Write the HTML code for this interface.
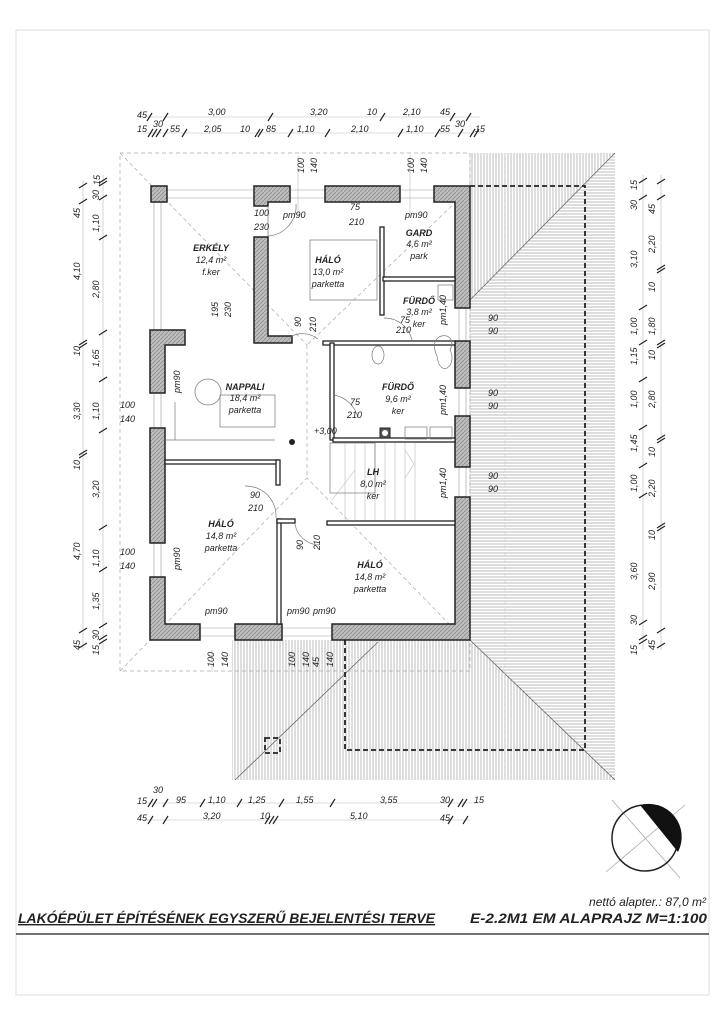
<!DOCTYPE html>
<html><head><meta charset="utf-8"><style>
html,body{margin:0;padding:0;background:#fff;}
svg{display:block;}
text{font-family:"Liberation Sans",sans-serif;font-style:italic;fill:#222;}
.d{font-size:9px;}
.r{font-size:9px;text-anchor:middle;}
.rb{font-size:9px;font-weight:bold;text-anchor:middle;}
</style></head><body>
<svg width="723" height="1024" viewBox="0 0 723 1024" xmlns="http://www.w3.org/2000/svg">
<defs>
<pattern id="hv" width="3" height="3" patternUnits="userSpaceOnUse"><line x1="1" y1="0" x2="1" y2="3" stroke="#aaa" stroke-width="0.8"/></pattern>
<pattern id="hh" width="3" height="3" patternUnits="userSpaceOnUse"><line x1="0" y1="1" x2="3" y2="1" stroke="#aaa" stroke-width="0.8"/></pattern>
<pattern id="wh" width="4" height="4" patternUnits="userSpaceOnUse"><rect width="4" height="4" fill="#bdbdbd"/><line x1="0" y1="4" x2="4" y2="0" stroke="#888" stroke-width="0.7"/></pattern>
</defs>
<rect x="16" y="30" width="693" height="965" fill="none" stroke="#ddd" stroke-width="1"/>

<polygon points="470,153 615,153 470,300" fill="url(#hv)"/>
<polygon points="615,153 615,780 470,640 470,300" fill="url(#hh)"/>
<polygon points="232,640 470,640 615,780 232,780" fill="url(#hv)"/>
<line x1="470" y1="300" x2="615" y2="153" stroke="#666" stroke-width="0.8"/>
<line x1="470" y1="640" x2="615" y2="780" stroke="#666" stroke-width="0.8"/>
<line x1="378" y1="642" x2="235" y2="780" stroke="#666" stroke-width="0.8"/>
<line x1="470" y1="153" x2="470" y2="640" stroke="#ccc" stroke-width="0.6"/>
<line x1="505" y1="153" x2="505" y2="780" stroke="#ccc" stroke-width="0.6" stroke-dasharray="4,3"/>

<g stroke="#aaa" stroke-width="0.7" stroke-dasharray="4,3" fill="none">
<rect x="120" y="153" width="350" height="518"/>
<line x1="120" y1="153" x2="307" y2="345"/>
<line x1="462" y1="196" x2="307" y2="345"/>
<line x1="307" y1="345" x2="307" y2="478"/>
<line x1="120" y1="671" x2="307" y2="478"/>
<line x1="455" y1="630" x2="307" y2="478"/>
</g>

<g stroke="#222" stroke-width="1.8" stroke-dasharray="5,3" fill="none">
<polyline points="470,186 585,186 585,750 345,750 345,640"/>
<rect x="265" y="738" width="15" height="15"/>
</g>

<g stroke="#999" stroke-width="0.6">
<line x1="167" y1="190" x2="254" y2="190"/><line x1="167" y1="198" x2="254" y2="198"/>
<line x1="290" y1="190" x2="325" y2="190"/><line x1="290" y1="198" x2="325" y2="198"/>
<line x1="400" y1="190" x2="434" y2="190"/><line x1="400" y1="198" x2="434" y2="198"/>
<line x1="459" y1="308" x2="459" y2="341"/><line x1="466" y1="308" x2="466" y2="341"/>
<line x1="459" y1="388" x2="459" y2="416"/><line x1="466" y1="388" x2="466" y2="416"/>
<line x1="459" y1="467" x2="459" y2="497"/><line x1="466" y1="467" x2="466" y2="497"/>
<line x1="154" y1="202" x2="154" y2="330"/><line x1="161" y1="202" x2="161" y2="330"/>
<line x1="154" y1="393" x2="154" y2="428"/><line x1="161" y1="393" x2="161" y2="428"/>
<line x1="154" y1="543" x2="154" y2="577"/><line x1="161" y1="543" x2="161" y2="577"/>
<line x1="200" y1="628" x2="235" y2="628"/><line x1="200" y1="636" x2="235" y2="636"/>
<line x1="282" y1="628" x2="332" y2="628"/><line x1="282" y1="636" x2="332" y2="636"/>
</g>

<g fill="url(#wh)" stroke="#222" stroke-width="1.5">
<rect x="151" y="186" width="16" height="16"/>
<polygon points="254,186 290,186 290,202 268,202 268,206 254,206"/>
<rect x="325" y="186" width="75" height="16"/>
<polygon points="434,186 470,186 470,308 455,308 455,202 434,202"/>
<rect x="455" y="341" width="15" height="47"/>
<rect x="455" y="416" width="15" height="51"/>
<polygon points="455,497 470,497 470,640 332,640 332,624 455,624"/>
<polygon points="235,624 282,624 282,640 235,640"/>
<polygon points="150,577 165,577 165,624 200,624 200,640 150,640"/>
<rect x="150" y="428" width="15" height="115"/>
<polygon points="150,330 185,330 185,345 165,345 165,393 150,393"/>
<polygon points="254,237 268,237 268,336 292,336 292,343 254,343"/>
</g>

<g fill="#fff" stroke="#222" stroke-width="1.3">
<rect x="323" y="341" width="132" height="4"/>
<rect x="330" y="343" width="4" height="97"/>
<rect x="333" y="438" width="122" height="4"/>
<rect x="380" y="227" width="4" height="88"/>
<rect x="383" y="277" width="72" height="4"/>
<rect x="165" y="460" width="113" height="4"/>
<rect x="276" y="460" width="4" height="25"/>
<rect x="277" y="519" width="4" height="105"/>
<rect x="277" y="519" width="18" height="4"/>
<rect x="327" y="521" width="128" height="4"/>
</g>

<g stroke="#bbb" stroke-width="0.6">
<line x1="345" y1="443" x2="345" y2="520"/><line x1="355" y1="443" x2="355" y2="520"/>
<line x1="365" y1="443" x2="365" y2="520"/><line x1="375" y1="443" x2="375" y2="520"/>
<line x1="385" y1="443" x2="385" y2="520"/><line x1="395" y1="443" x2="395" y2="520"/>
<line x1="405" y1="443" x2="405" y2="520"/><line x1="415" y1="443" x2="415" y2="520"/>
<polyline points="405,450 414,464 405,478" fill="none"/>
<line x1="332" y1="500" x2="355" y2="470"/>
</g>

<g stroke="#777" stroke-width="0.7" fill="none">
<path d="M268,206 L268,236 A30,30 0 0 0 296,204"/>
<path d="M290,337 A25,25 0 0 1 318,339"/>
<path d="M384,318 A28,28 0 0 1 412,340"/>
<path d="M334,395 A30,30 0 0 1 358,418"/>
<path d="M245,486 A30,30 0 0 1 276,518"/>
<path d="M295,524 A25,25 0 0 0 320,545"/>
<rect x="310" y="240" width="67" height="60"/>
<rect x="330" y="443" width="45" height="50"/>
<circle cx="208" cy="392" r="13"/>
<rect x="220" y="395" width="55" height="32"/>
<ellipse cx="378" cy="355" rx="6" ry="9"/>
<path d="M437,356 C425,330 460,330 450,350 C458,365 440,380 437,356Z"/>
<rect x="405" y="427" width="22" height="12"/><rect x="430" y="427" width="22" height="12"/>
<rect x="438" y="285" width="15" height="15"/>
<line x1="175" y1="402" x2="175" y2="440"/>
<line x1="165" y1="440" x2="275" y2="440"/>
</g>
<rect x="380" y="428" width="10" height="10" fill="#555" stroke="#222"/>
<circle cx="385" cy="433" r="3" fill="#fff"/>
<circle cx="292" cy="442" r="3" fill="#222"/>

<g stroke="#bbb" stroke-width="0.6">
<line x1="143" y1="117" x2="480" y2="117"/>
<line x1="143" y1="133" x2="485" y2="133"/>
<line x1="83" y1="180" x2="83" y2="650"/>
<line x1="103" y1="175" x2="103" y2="650"/>
<line x1="643" y1="175" x2="643" y2="650"/>
<line x1="661" y1="175" x2="661" y2="650"/>
<line x1="143" y1="803" x2="480" y2="803"/>
<line x1="143" y1="820" x2="470" y2="820"/>
<line x1="298" y1="155" x2="298" y2="215"/>
<line x1="410" y1="155" x2="410" y2="215"/>
<line x1="212" y1="672" x2="212" y2="650"/>
</g>
<g stroke="#222" stroke-width="1.2">
<path d="M147,121 l5,-8 M163,121 l5,-8 M268,121 l5,-8 M380,121 l5,-8 M450,121 l5,-8 M466,121 l5,-8"/>
<path d="M148,137 l5,-8 M152,137 l5,-8 M156,137 l5,-8 M163,137 l5,-8 M182,137 l5,-8 M255,137 l5,-8 M258,137 l5,-8 M288,137 l5,-8 M325,137 l5,-8 M398,137 l5,-8 M435,137 l5,-8 M458,137 l5,-8 M470,137 l5,-8 M474,137 l5,-8"/>
<path d="M148,807 l5,-8 M152,807 l5,-8 M163,807 l5,-8 M200,807 l5,-8 M237,807 l5,-8 M279,807 l5,-8 M330,807 l5,-8 M448,807 l5,-8 M458,807 l5,-8 M462,807 l5,-8"/>
<path d="M148,824 l5,-8 M163,824 l5,-8 M265,824 l5,-8 M269,824 l5,-8 M273,824 l5,-8 M448,824 l5,-8 M463,824 l5,-8"/>
<path d="M79,188 l8,-5 M79,204 l8,-5 M79,345 l8,-5 M79,348 l8,-5 M79,455 l8,-5 M79,458 l8,-5 M79,633 l8,-5 M79,648 l8,-5"/>
<path d="M99,183 l8,-5 M99,186 l8,-5 M99,200 l8,-5 M99,240 l8,-5 M99,335 l8,-5 M99,382 l8,-5 M99,433 l8,-5 M99,530 l8,-5 M99,572 l8,-5 M99,628 l8,-5 M99,640 l8,-5 M99,644 l8,-5"/>
<path d="M639,183 l8,-5 M639,200 l8,-5 M639,310 l8,-5 M639,345 l8,-5 M639,382 l8,-5 M639,430 l8,-5 M639,468 l8,-5 M639,498 l8,-5 M639,625 l8,-5 M639,640 l8,-5 M639,644 l8,-5"/>
<path d="M657,184 l8,-5 M657,200 l8,-5 M657,270 l8,-5 M657,273 l8,-5 M657,345 l8,-5 M657,348 l8,-5 M657,440 l8,-5 M657,443 l8,-5 M657,528 l8,-5 M657,531 l8,-5 M657,633 l8,-5 M657,648 l8,-5"/>
</g>

<g class="d">
<text x="137" y="118">45</text><text x="153" y="127">30</text><text x="208" y="115">3,00</text><text x="310" y="115">3,20</text><text x="367" y="115">10</text><text x="403" y="115">2,10</text><text x="440" y="115">45</text><text x="455" y="127">30</text>
<text x="137" y="132">15</text><text x="170" y="132">55</text><text x="204" y="132">2,05</text><text x="240" y="132">10</text><text x="266" y="132">85</text><text x="297" y="132">1,10</text><text x="351" y="132">2,10</text><text x="406" y="132">1,10</text><text x="440" y="132">55</text><text x="475" y="132">15</text>
<text x="137" y="804">15</text><text x="153" y="793">30</text><text x="176" y="803">95</text><text x="208" y="803">1,10</text><text x="248" y="803">1,25</text><text x="296" y="803">1,55</text><text x="380" y="803">3,55</text><text x="440" y="803">30</text><text x="474" y="803">15</text>
<text x="137" y="821">45</text><text x="203" y="819">3,20</text><text x="260" y="819">10</text><text x="350" y="819">5,10</text><text x="440" y="821">45</text>
<text x="283" y="218">pm90</text><text x="405" y="218">pm90</text>
<text x="254" y="216">100</text><text x="254" y="230">230</text>
<text x="350" y="210">75</text><text x="349" y="225">210</text>
<text x="396" y="333">210</text><text x="400" y="323">75</text>
<text x="350" y="405">75</text><text x="347" y="418">210</text>
<text x="314" y="434">+3,00</text>
<text x="250" y="498">90</text><text x="248" y="511">210</text>
<text x="120" y="408">100</text><text x="120" y="422">140</text>
<text x="120" y="555">100</text><text x="120" y="569">140</text>
<text x="205" y="614">pm90</text><text x="287" y="614">pm90</text><text x="313" y="614">pm90</text>
<text x="488" y="321">90</text><text x="488" y="334">90</text>
<text x="488" y="396">90</text><text x="488" y="409">90</text>
<text x="488" y="479">90</text><text x="488" y="492">90</text>
</g>
<g class="d">
<text transform="translate(304,173) rotate(-90)">100</text><text transform="translate(317,173) rotate(-90)">140</text>
<text transform="translate(414,173) rotate(-90)">100</text><text transform="translate(427,173) rotate(-90)">140</text>
<text transform="translate(218,317) rotate(-90)">195</text><text transform="translate(231,317) rotate(-90)">230</text>
<text transform="translate(301,327) rotate(-90)">90</text><text transform="translate(316,332) rotate(-90)">210</text>
<text transform="translate(180,393) rotate(-90)">pm90</text>
<text transform="translate(180,570) rotate(-90)">pm90</text>
<text transform="translate(303,550) rotate(-90)">90</text><text transform="translate(320,550) rotate(-90)">210</text>
<text transform="translate(446,415) rotate(-90)">pm1,40</text>
<text transform="translate(446,498) rotate(-90)">pm1,40</text>
<text transform="translate(446,325) rotate(-90)">pm1,40</text>
<text transform="translate(214,667) rotate(-90)">100</text><text transform="translate(228,667) rotate(-90)">140</text>
<text transform="translate(295,667) rotate(-90)">100</text><text transform="translate(309,667) rotate(-90)">140</text><text transform="translate(319,667) rotate(-90)">45</text><text transform="translate(333,667) rotate(-90)">140</text>
<text transform="translate(80,218) rotate(-90)">45</text><text transform="translate(80,280) rotate(-90)">4,10</text><text transform="translate(80,356) rotate(-90)">10</text><text transform="translate(80,420) rotate(-90)">3,30</text><text transform="translate(80,470) rotate(-90)">10</text><text transform="translate(80,560) rotate(-90)">4,70</text><text transform="translate(80,650) rotate(-90)">45</text>
<text transform="translate(99,200) rotate(-90)">30</text><text transform="translate(100,185) rotate(-90)">15</text><text transform="translate(99,232) rotate(-90)">1,10</text><text transform="translate(99,298) rotate(-90)">2,80</text><text transform="translate(99,367) rotate(-90)">1,65</text><text transform="translate(99,420) rotate(-90)">1,10</text><text transform="translate(99,498) rotate(-90)">3,20</text><text transform="translate(99,567) rotate(-90)">1,10</text><text transform="translate(99,610) rotate(-90)">1,35</text><text transform="translate(99,640) rotate(-90)">30</text><text transform="translate(99,655) rotate(-90)">15</text>
<text transform="translate(637,190) rotate(-90)">15</text><text transform="translate(637,210) rotate(-90)">30</text><text transform="translate(637,268) rotate(-90)">3,10</text><text transform="translate(637,335) rotate(-90)">1,00</text><text transform="translate(637,365) rotate(-90)">1,15</text><text transform="translate(637,408) rotate(-90)">1,00</text><text transform="translate(637,452) rotate(-90)">1,45</text><text transform="translate(637,492) rotate(-90)">1,00</text><text transform="translate(637,580) rotate(-90)">3,60</text><text transform="translate(637,625) rotate(-90)">30</text><text transform="translate(637,655) rotate(-90)">15</text>
<text transform="translate(655,214) rotate(-90)">45</text><text transform="translate(655,253) rotate(-90)">2,20</text><text transform="translate(655,292) rotate(-90)">10</text><text transform="translate(655,335) rotate(-90)">1,80</text><text transform="translate(655,360) rotate(-90)">10</text><text transform="translate(655,408) rotate(-90)">2,80</text><text transform="translate(655,457) rotate(-90)">10</text><text transform="translate(655,497) rotate(-90)">2,20</text><text transform="translate(655,540) rotate(-90)">10</text><text transform="translate(655,590) rotate(-90)">2,90</text><text transform="translate(655,650) rotate(-90)">45</text>
</g>

<text class="rb" x="211" y="251">ERKÉLY</text><text class="r" x="211" y="263">12,4 m²</text><text class="r" x="211" y="275">f.ker</text>
<text class="rb" x="328" y="263">HÁLÓ</text><text class="r" x="328" y="275">13,0 m²</text><text class="r" x="328" y="287">parketta</text>
<text class="rb" x="419" y="236">GARD</text><text class="r" x="419" y="247">4,6 m²</text><text class="r" x="419" y="259">park</text>
<text class="rb" x="419" y="304">FÜRDŐ</text><text class="r" x="419" y="315">3,8 m²</text><text class="r" x="419" y="327">ker</text>
<text class="rb" x="245" y="390">NAPPALI</text><text class="r" x="245" y="401">18,4 m²</text><text class="r" x="245" y="413">parketta</text>
<text class="rb" x="398" y="390">FÜRDŐ</text><text class="r" x="398" y="402">9,6 m²</text><text class="r" x="398" y="414">ker</text>
<text class="rb" x="373" y="475">LH</text><text class="r" x="373" y="487">8,0 m²</text><text class="r" x="373" y="499">ker</text>
<text class="rb" x="221" y="527">HÁLÓ</text><text class="r" x="221" y="539">14,8 m²</text><text class="r" x="221" y="551">parketta</text>
<text class="rb" x="370" y="568">HÁLÓ</text><text class="r" x="370" y="580">14,8 m²</text><text class="r" x="370" y="592">parketta</text>

<g>
<line x1="612" y1="800" x2="680" y2="878" stroke="#aaa" stroke-width="0.8"/>
<line x1="606" y1="872" x2="685" y2="805" stroke="#aaa" stroke-width="0.8"/>
<circle cx="645" cy="838" r="33" fill="none" stroke="#222" stroke-width="1.5"/>
<path d="M640,805 A33,33 0 0 1 678,852 Z" fill="#111"/>
</g>

<text x="706" y="906" style="font-size:12px;text-anchor:end;">nettó alapter.: 87,0 m²</text>
<text x="18" y="923" textLength="417" lengthAdjust="spacingAndGlyphs" style="font-size:14px;font-weight:bold;text-decoration:underline;">LAKÓÉPÜLET ÉPÍTÉSÉNEK EGYSZERŰ BEJELENTÉSI TERVE</text>
<text x="470" y="923" textLength="237" lengthAdjust="spacingAndGlyphs" style="font-size:14px;font-weight:bold;">E-2.2M1  EM ALAPRAJZ M=1:100</text>
<line x1="16" y1="934" x2="709" y2="934" stroke="#444" stroke-width="1.5"/>
</svg>
</body></html>
